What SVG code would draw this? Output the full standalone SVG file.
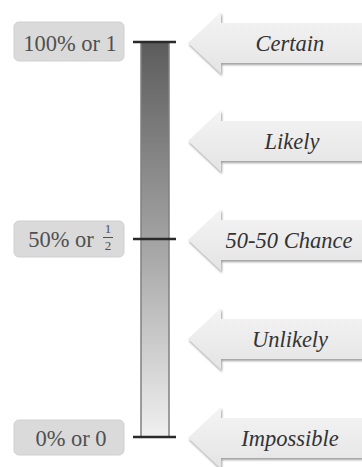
<svg xmlns="http://www.w3.org/2000/svg" width="362" height="467" viewBox="0 0 362 467">
<style>
.lbl{fill:#dadada;stroke:#d0d0d0;stroke-width:1}
.lt{font-size:22.5px;fill:#505050;text-anchor:middle}
.fr{font-size:13px;fill:#505050;text-anchor:middle}
.arr{fill:url(#ag)}
.sh{fill:#a0a0a0;filter:url(#bl)}
.at{font-style:italic;font-size:22.5px;fill:#333333;text-anchor:middle}
.tick{stroke:#2a2a2a;stroke-width:2.5}
</style>
<defs>
<linearGradient id="bg" x1="0" y1="0" x2="0" y2="1">
<stop offset="0" stop-color="#5c5c5c"/>
<stop offset="0.5" stop-color="#a2a2a2"/>
<stop offset="1" stop-color="#f0f0f0"/>
</linearGradient>
<linearGradient id="ag" x1="0" y1="0" x2="0" y2="1">
<stop offset="0" stop-color="#f4f4f4"/>
<stop offset="1" stop-color="#e4e4e4"/>
</linearGradient>
<filter id="bl" x="-10%" y="-20%" width="120%" height="140%"><feGaussianBlur stdDeviation="1"/></filter>
<path id="ap" d="M188 0 L221 -31 L221 -20 L362 -20 L362 20 L221 20 L221 31 Z"/>
</defs>
<rect width="362" height="467" fill="#ffffff"/>

<g id="bar">
<rect x="141" y="42" width="28" height="395" fill="url(#bg)" stroke="#808080" stroke-width="1.5"/>
</g>

<g id="connectors">
<line class="tick" x1="133" y1="42" x2="176" y2="42"/>
<line class="tick" x1="133" y1="239" x2="176" y2="239"/>
<line class="tick" x1="133" y1="437" x2="176" y2="437"/>
</g>

<g font-family="'Liberation Serif', serif">
<g id="label-100">
<rect class="lbl" x="14" y="22" width="110" height="39" rx="5"/>
<text class="lt" x="70" y="51">100% or 1</text>
</g>
<g id="label-50">
<rect class="lbl" x="14" y="221" width="110" height="36" rx="5"/>
<text class="lt" x="61" y="247">50% or</text>
<text class="fr" x="108" y="233">1</text>
<line x1="103" y1="237.5" x2="113" y2="237.5" stroke="#505050" stroke-width="1"/>
<text class="fr" x="108" y="250">2</text>
</g>
<g id="label-0">
<rect class="lbl" x="14" y="420" width="110" height="35" rx="5"/>
<text class="lt" x="71" y="446">0% or 0</text>
</g>

<g id="arrow-certain" transform="translate(0,43)">
<use href="#ap" class="sh" transform="translate(1,2)"/>
<use href="#ap" class="arr"/>
<text class="at" x="290" y="8">Certain</text>
</g>
<g id="arrow-likely" transform="translate(0,141)">
<use href="#ap" class="sh" transform="translate(1,2)"/>
<use href="#ap" class="arr"/>
<text class="at" x="292" y="8">Likely</text>
</g>
<g id="arrow-5050" transform="translate(0,240)">
<use href="#ap" class="sh" transform="translate(1,2)"/>
<use href="#ap" class="arr"/>
<text class="at" x="289" y="8">50-50 Chance</text>
</g>
<g id="arrow-unlikely" transform="translate(0,339)">
<use href="#ap" class="sh" transform="translate(1,2)"/>
<use href="#ap" class="arr"/>
<text class="at" x="290" y="8">Unlikely</text>
</g>
<g id="arrow-impossible" transform="translate(0,438)">
<use href="#ap" class="sh" transform="translate(1,2)"/>
<use href="#ap" class="arr"/>
<text class="at" x="290" y="8">Impossible</text>
</g>
</g>
</svg>
